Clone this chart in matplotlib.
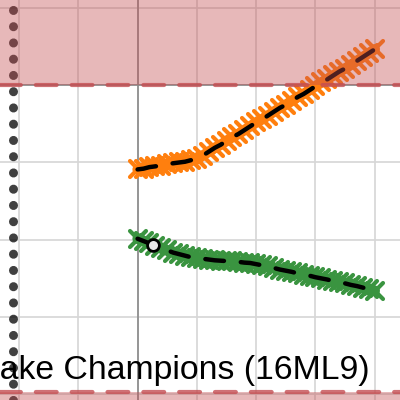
import matplotlib
matplotlib.use("Agg")
import matplotlib.pyplot as plt
from matplotlib.markers import MarkerStyle

# ---- data ----
steps = list(range(41))
orange_vals = [29.1, 29.2, 29.4, 29.5, 29.6, 29.8, 29.9, 30.0, 30.1, 30.3, 30.4,
               30.9, 31.4, 31.9, 32.3, 32.8, 33.3, 33.7, 34.2, 34.7, 35.2,
               35.6, 36.1, 36.6, 37.1, 37.5, 38.0, 38.5, 38.9, 39.4, 39.9,
               40.4, 40.8, 41.3, 41.8, 42.2, 42.7, 43.2, 43.7, 44.2, 44.7]
green_vals = [20.1, 19.8, 19.5, 19.2, 18.9, 18.6, 18.3, 18.1, 17.9, 17.7, 17.6,
              17.5, 17.4, 17.3, 17.25, 17.2, 17.15, 17.1, 17.0, 16.95, 16.8,
              16.65, 16.5, 16.3, 16.1, 15.95, 15.8, 15.6, 15.45, 15.3, 15.1,
              14.95, 14.8, 14.6, 14.45, 14.3, 14.1, 13.95, 13.75, 13.55, 13.35]
highlight_x = [2.6]
highlight_y = [19.3]
upper_limit = 40.0
lower_limit = 0.2
ref_x = -21.0
title_text = "Lake Champions (16ML9)"

fig = plt.figure(figsize=(4, 4), dpi=100)
ax = fig.add_axes([0, 0, 1, 1])
ax.set_xlim(-23.2, 44.25)
ax.set_ylim(-0.84, 51.1)
ax.set_xticks(range(-20, 45, 10))
ax.set_yticks(range(0, 51, 10))
ax.grid(True, color="#d6d6d6", lw=1.2)
ax.set_axisbelow(True)
ax.tick_params(length=0, labelbottom=False, labelleft=False)
for s in ax.spines.values():
    s.set_visible(False)

ax.axvline(0, color="#8a8a8a", lw=1.2, zorder=1)
ax.axhline(upper_limit, color="#8a8a8a", lw=1.2, zorder=1)

# dotted reference line on the left
ax.axvline(ref_x, color="black", alpha=0.75, lw=6.5, dashes=(0.01, 1.79),
           dash_capstyle="round", zorder=2)

xm = MarkerStyle("x", capstyle="round")
ax.plot(steps, orange_vals, color="#ff7f0e", lw=7.5, marker=xm, ms=12, mew=3,
        zorder=2, solid_capstyle="round")
ax.plot(steps, green_vals, color="#3a9440", lw=7.5, marker=xm, ms=12, mew=3,
        zorder=2, solid_capstyle="round")
ax.plot(steps, orange_vals, color="black", lw=3.2, dashes=(4.2, 3.8),
        dash_capstyle="round", zorder=2.2)
ax.plot(steps, green_vals, color="black", lw=3.2, dashes=(4.2, 3.8),
        dash_capstyle="round", zorder=2.2)

# shaded out-of-range zones
ax.axhspan(upper_limit, 60, color="#c44e52", alpha=0.4, lw=0, zorder=3)
ax.axhspan(-5, lower_limit, color="#c44e52", alpha=0.4, lw=0, zorder=3)
for lim in (upper_limit, lower_limit):
    ax.axhline(lim, color="#c44e52", alpha=0.8, lw=3, dashes=(5, 3.6),
               dash_capstyle="round", zorder=4)

ax.plot(highlight_x, highlight_y, linestyle="none", marker="o", ms=8.5,
        mfc="#e8e8e8", mec="black", mew=2, zorder=5)

ax.text(-0.048, 0.0525, title_text, transform=ax.transAxes, ha="left",
        va="baseline", fontsize=24.3, family=["Liberation Sans", "DejaVu Sans"],
        color="black", zorder=6, clip_on=False)

fig.savefig("out.png", dpi=100)
